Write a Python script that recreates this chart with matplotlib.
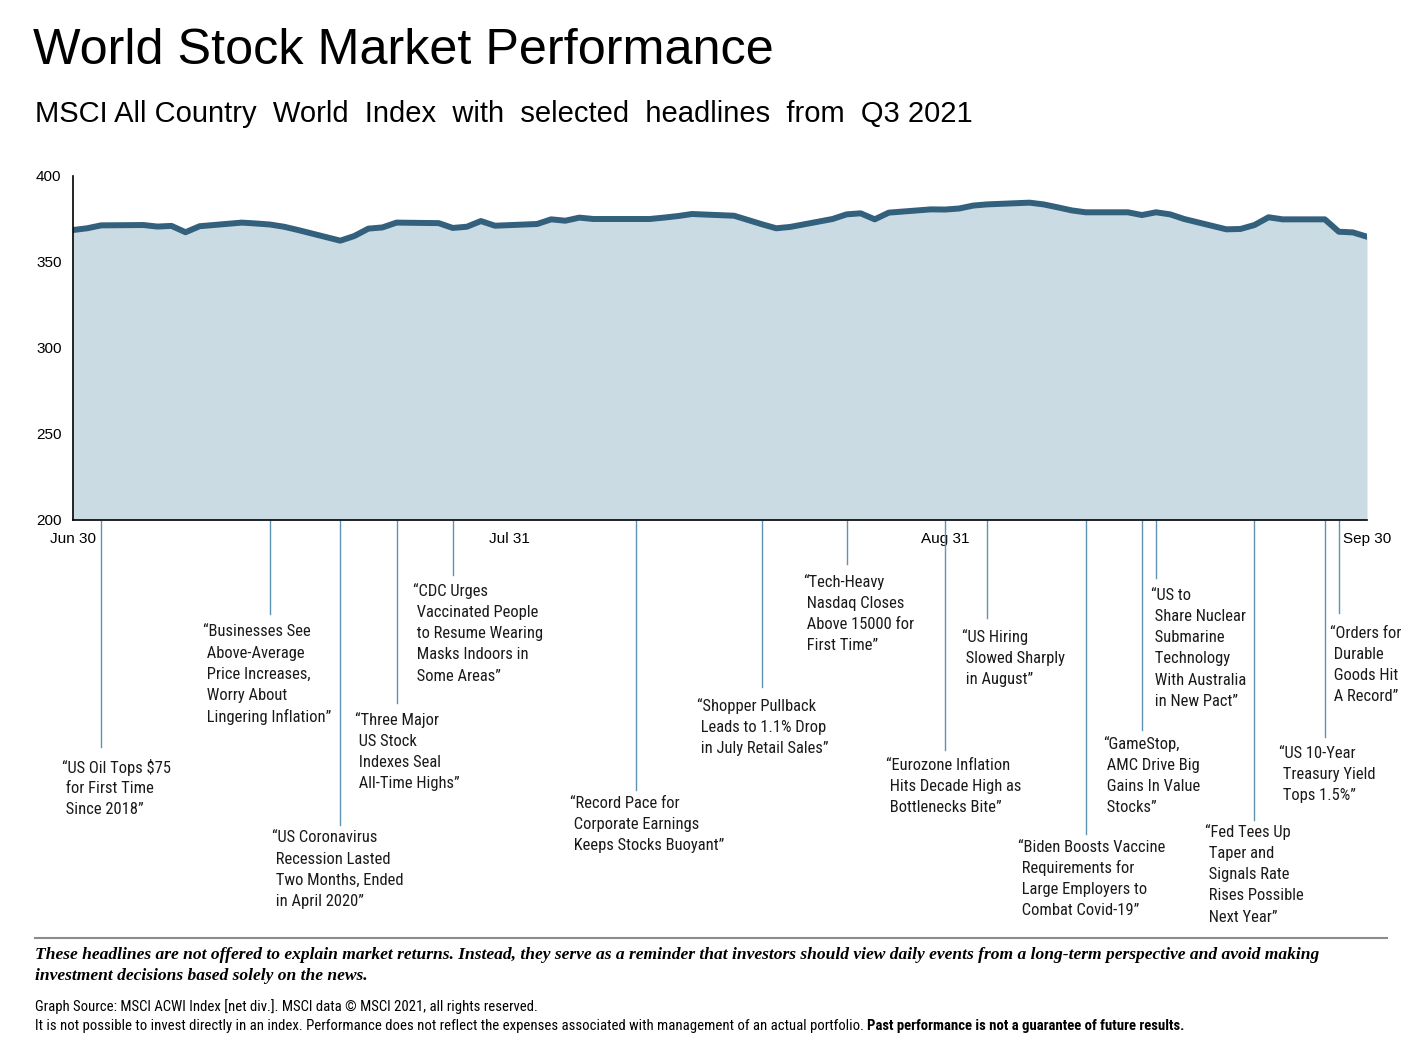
import pandas as pd
import matplotlib
matplotlib.use('Agg')
import matplotlib.pyplot as plt
import matplotlib.transforms as mtransforms
from matplotlib import font_manager

# Valeurs de l'indice MSCI ACWI (jours ouvrés, T3 2021)
dates = pd.bdate_range('2021-06-30', '2021-09-30')
acwi = [368.6,
        369.6, 371.3, 371.5, 370.6, 371.0, 367.3, 370.8, 372.9, 372.4, 371.8, 370.5, 368.6,
        362.4, 365.1, 369.4, 370.1, 372.9, 372.6, 369.8, 370.5, 373.8, 371.1,
        372.1, 374.8, 374.0, 375.8, 375.0, 375.0, 375.0, 375.8, 376.7, 377.9, 376.9, 374.4,
        371.9, 369.6, 370.4, 375.0, 377.7, 378.3, 374.8, 378.7, 380.6, 380.5,
        381.1, 382.8, 383.5, 384.5, 383.5, 381.8, 380.0, 378.9, 378.9, 377.3, 378.9, 377.7,
        375.0, 369.0, 369.2, 371.5, 376.0, 374.8, 374.8, 367.6, 367.2, 364.7]

tick_dates = pd.to_datetime(['2021-06-30', '2021-07-31', '2021-08-31', '2021-09-30'])
tick_labels = ['Jun 30', 'Jul 31', 'Aug 31', 'Sep 30']

headline_dates = pd.to_datetime(['2021-07-02', '2021-07-14', '2021-07-19', '2021-07-23',
                                 '2021-07-27', '2021-08-09', '2021-08-18', '2021-08-24',
                                 '2021-08-31', '2021-09-03', '2021-09-10', '2021-09-14',
                                 '2021-09-15', '2021-09-22', '2021-09-27', '2021-09-28'])
headlines = [
    '\u201cUS Oil Tops $75\n for First Time\n Since 2018\u201d',
    '\u201cBusinesses See\n Above-Average\n Price Increases,\n Worry About\n Lingering Inflation\u201d',
    '\u201cUS Coronavirus\n Recession Lasted\n Two Months, Ended\n in April 2020\u201d',
    '\u201cThree Major\n US Stock\n Indexes Seal\n All-Time Highs\u201d',
    '\u201cCDC Urges\n Vaccinated People\n to Resume Wearing\n Masks Indoors in\n Some Areas\u201d',
    '\u201cRecord Pace for\n Corporate Earnings\n Keeps Stocks Buoyant\u201d',
    '\u201cShopper Pullback\n Leads to 1.1% Drop\n in July Retail Sales\u201d',
    '\u201cTech-Heavy\n Nasdaq Closes\n Above 15000 for\n First Time\u201d',
    '\u201cEurozone Inflation\n Hits Decade High as\n Bottlenecks Bite\u201d',
    '\u201cUS Hiring\n Slowed Sharply\n in August\u201d',
    '\u201cBiden Boosts Vaccine\n Requirements for\n Large Employers to\n Combat Covid-19\u201d',
    '\u201cGameStop,\n AMC Drive Big\n Gains In Value\n Stocks\u201d',
    '\u201cUS to\n Share Nuclear\n Submarine\n Technology\n With Australia\n in New Pact\u201d',
    '\u201cFed Tees Up\n Taper and\n Signals Rate\n Rises Possible\n Next Year\u201d',
    '\u201cUS 10-Year\n Treasury Yield\n Tops 1.5%\u201d',
    '\u201cOrders for\n Durable\n Goods Hit\n A Record\u201d',
]

# Mise en page des titres (pixels): bord gauche du texte, centre de la 1re ligne, bas du trait
text_left = [62, 203, 272, 355, 413, 570, 697, 803, 886, 962, 1018, 1103, 1151, 1205, 1279, 1330]
text_first = [767, 632, 838, 720, 591, 803, 706, 582, 765, 637, 847, 744, 595, 832, 753, 633]
stem_end = [747, 614, 825, 703, 575, 790, 687, 564, 750, 618, 834, 730, 578, 820, 737, 613]
line_gap = 21.3

W, H = 1416, 1045
line_color = '#33607c'
fill_color = '#cbdbe3'
stem_color = '#5f93b3'

# Police étroite si disponible, sinon Liberation Sans plus petite
installed = {f.name for f in font_manager.fontManager.ttflist}
narrow_font = None
for cand in ['Liberation Sans Narrow', 'Arial Narrow', 'Roboto Condensed']:
    if cand in installed:
        narrow_font = cand
        break
if narrow_font:
    narrow = [narrow_font, 'Liberation Sans']
    head_size, src_size = 11.9, 10.6
else:
    narrow = ['Liberation Sans', 'DejaVu Sans']
    head_size, src_size = 10.7, 9.25

plt.rcParams['font.family'] = ['Liberation Sans', 'DejaVu Sans']

fig = plt.figure(figsize=(W / 100, H / 100), dpi=100)
ax = fig.add_axes([73 / W, 1 - 520 / H, (1367 - 73) / W, (520 - 176) / H])

ax.fill_between(dates, acwi, 200, color=fill_color, lw=0)
ax.plot(dates, acwi, color=line_color, lw=4.3, solid_joinstyle='round')

ax.set_xlim(tick_dates[0], tick_dates[-1])
ax.set_ylim(200, 400)
ax.set_yticks([200, 250, 300, 350, 400])
ax.set_xticks(tick_dates)
ax.set_xticklabels(tick_labels)
ax.tick_params(axis='both', length=0, labelsize=11, colors='black')
ax.tick_params(axis='y', pad=26.6)
ax.tick_params(axis='x', pad=9)
for lab in ax.get_yticklabels():
    lab.set_horizontalalignment('left')
ax.spines['top'].set_visible(False)
ax.spines['right'].set_visible(False)
ax.spines['left'].set_linewidth(1.2)
ax.spines['bottom'].set_linewidth(1.2)

# Traits verticaux et titres de presse (une ligne de texte à la fois)
trans = mtransforms.blended_transform_factory(ax.transData, fig.transFigure)
for d, txt, tx, ty, se in zip(headline_dates, headlines, text_left, text_first, stem_end):
    ax.plot([d, d], [1 - 521 / H, 1 - se / H], transform=trans, color=stem_color,
            lw=1.0, clip_on=False)
    for i, row in enumerate(txt.split('\n')):
        fig.text(tx / W, 1 - (ty + i * line_gap) / H, row, family=narrow, fontsize=head_size,
                 va='center', ha='left', color='#1a1a1a')

# Titres
fig.text(33 / W, 1 - 51 / H, 'World Stock Market Performance', fontsize=36.3, va='center')
fig.text(35 / W, 1 - 114 / H,
         'MSCI All Country  World  Index  with  selected  headlines  from  Q3 2021',
         fontsize=21, va='center')

# Pied de page
fig.add_artist(plt.Line2D([35 / W, 1387 / W], [1 - 938 / H, 1 - 938 / H],
                          color='#8c8c8c', lw=1.5))
serif = ['Liberation Serif', 'DejaVu Serif']
fig.text(35 / W, 1 - 955 / H,
         'These headlines are not offered to explain market returns. Instead, they serve as a reminder '
         'that investors should view daily events from a long-term perspective and avoid making',
         family=serif, style='italic', weight='bold', fontsize=12.6, va='center')
fig.text(35 / W, 1 - 976 / H, 'investment decisions based solely on the news.',
         family=serif, style='italic', weight='bold', fontsize=12.6, va='center')
fig.text(35 / W, 1 - 1007 / H,
         'Graph Source: MSCI ACWI Index [net div.]. MSCI data \u00a9 MSCI 2021, all rights reserved.',
         family=narrow, fontsize=src_size, va='center')
t1 = fig.text(35 / W, 1 - 1026 / H,
              'It is not possible to invest directly in an index. Performance does not reflect the '
              'expenses associated with management of an actual portfolio. ',
              family=narrow, fontsize=src_size, va='center')
renderer = fig.canvas.get_renderer()
bb = t1.get_window_extent(renderer)
fig.text(bb.x1 / W, 1 - 1026 / H, 'Past performance is not a guarantee of future results.',
         family=narrow, fontsize=src_size, weight='bold', va='center')

fig.savefig('out.png', dpi=100)
plt.close(fig)
